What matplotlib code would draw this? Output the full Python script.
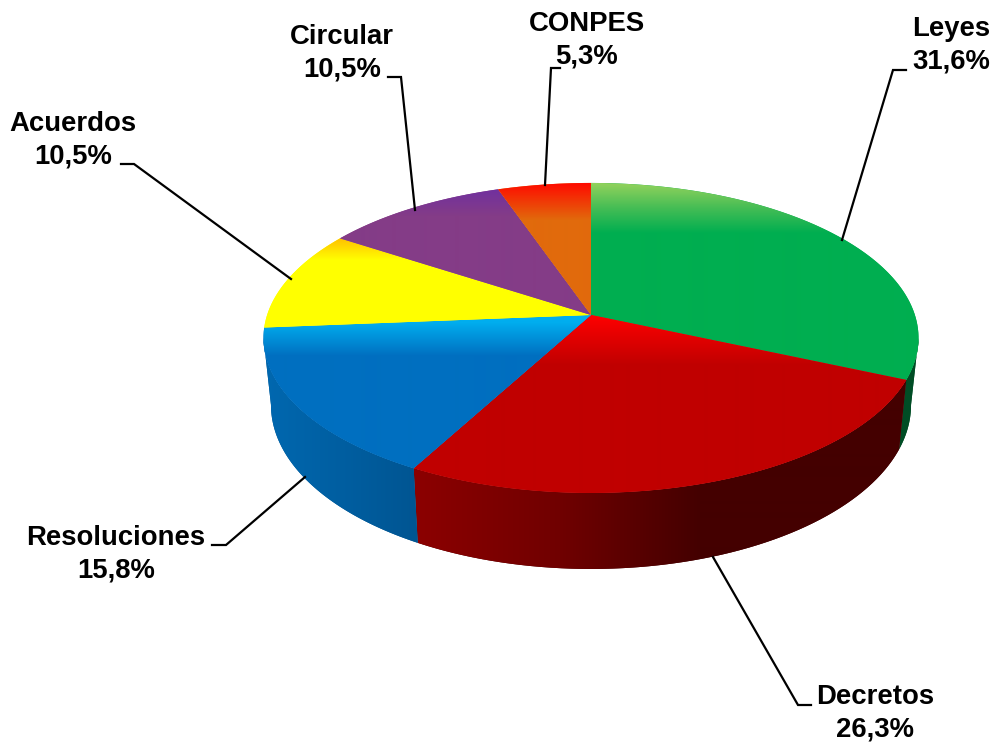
import numpy as np
import matplotlib

matplotlib.use("Agg")
import matplotlib.pyplot as plt
from matplotlib.colors import to_rgb
from matplotlib.path import Path
from matplotlib.patches import PathPatch

labels = ["Leyes", "Decretos", "Resoluciones", "Acuerdos", "Circular", "CONPES"]
percents = [31.6, 26.3, 15.8, 10.5, 10.5, 5.3]

# top face: (y, colour) stops for the sheen near the far rim
top_stops = [
    [(183, "#93d25c"), (208, "#45bd55"), (233, "#00ae50")],
    [(315, "#ff0000"), (365, "#c00000")],
    [(322, "#00aeef"), (356, "#006fc0")],
    [(238, "#ffbf00"), (260, "#ffff00")],
    [(188, "#7030a0"), (216, "#843c87")],
    [(183, "#ff0a00"), (220, "#e16a0c")],
]
# side wall: (x, colour) stops, dark toward the right
wall_stops = [
    [(880, "#004d25"), (920, "#004d25")],
    [(415, "#8c0000"), (560, "#700000"), (700, "#440000"), (910, "#440000")],
    [(264, "#0068b0"), (417, "#005592")],
]

# leader lines, pixel layout
leaders = [
    [(906, 70), (893, 70), (842, 240)],
    [(811, 705), (798, 705), (713, 557)],
    [(212, 545), (226, 545), (305, 477)],
    [(121, 164), (134, 164), (291, 279)],
    [(388, 77), (401, 77), (415, 210)],
    [(560, 68), (551, 68), (545, 185)],
]
label_pos = [(951, 45.5), (875, 713.5), (116, 554), (73, 140.5), (342, 53.5), (587, 40.5)]

W, H = 996, 743
CX = 591
P = 0.148  # perspective of the tilted disc
SIDE = 98.5  # rim angle where the disc is widest


def rim(deg, a, b, y0):
    t = np.radians(deg)
    u, v = np.sin(t), -np.cos(t)
    d = 1 - P * v
    return CX + a * u / d, y0 + b * v / d


def top_rim(deg):
    return rim(deg, 323.9, 151.6, 315)


def bottom_rim(deg):
    return rim(deg, 316.5, 160.4, 380.7)


def gradient(stops, axis):
    pos = [s[0] for s in stops]
    cols = np.array([to_rgb(s[1]) for s in stops])
    n = H if axis == "y" else W
    grid = np.arange(n) + 0.5
    img = np.stack([np.interp(grid, pos, cols[:, i]) for i in range(3)], axis=-1)
    return img[:, None, :] if axis == "y" else img[None, :, :]


def fill(ax, xs, ys, stops, axis, z):
    path = Path(np.column_stack([xs, ys]))
    # base colour under the image keeps the edge smooth
    base = PathPatch(path, fc=stops[-1][1], ec="none", zorder=z)
    ax.add_patch(base)
    im = ax.imshow(gradient(stops, axis), extent=(0, W, H, 0), origin="upper",
                   aspect="auto", interpolation="bilinear", zorder=z)
    im.set_clip_path(path, ax.transData)


fig = plt.figure(figsize=(W / 100, H / 100), dpi=100)
ax = fig.add_axes([0, 0, 1, 1])

edges = np.concatenate([[0], np.cumsum(percents) * 3.6])

# walls first; the green and blue ones run out to the widest point of the rim
wall_ranges = [
    np.linspace(SIDE, edges[1], 40),
    np.linspace(edges[1], edges[2], 120),
    np.linspace(edges[2], 360 - SIDE, 60),
]
for t, stops in zip(wall_ranges, wall_stops):
    x0, y0 = top_rim(t)
    x1, y1 = bottom_rim(t)
    fill(ax, np.r_[x0, x1[::-1]], np.r_[y0, y1[::-1]], stops, "x", 2)

for i in range(len(percents)):
    t = np.linspace(edges[i], edges[i + 1], 160)
    x, y = top_rim(t)
    fill(ax, np.r_[CX, x], np.r_[315, y], top_stops[i], "y", 3)

for pts in leaders:
    xs, ys = zip(*pts)
    ax.plot(xs, ys, color="black", lw=1.6, solid_joinstyle="miter", zorder=4)

for name, pct, (x, y) in zip(labels, percents, label_pos):
    txt = name + "\n" + f"{pct:.1f}".replace(".", ",") + "%"
    ax.text(x, y, txt, ha="center", va="center", fontsize=19.8, fontweight="bold",
            family="Liberation Sans", color="black", linespacing=1.32, zorder=5)

ax.set_xlim(0, W)
ax.set_ylim(H, 0)
ax.axis("off")
fig.savefig("out.png", dpi=100, facecolor="white")
plt.close()
